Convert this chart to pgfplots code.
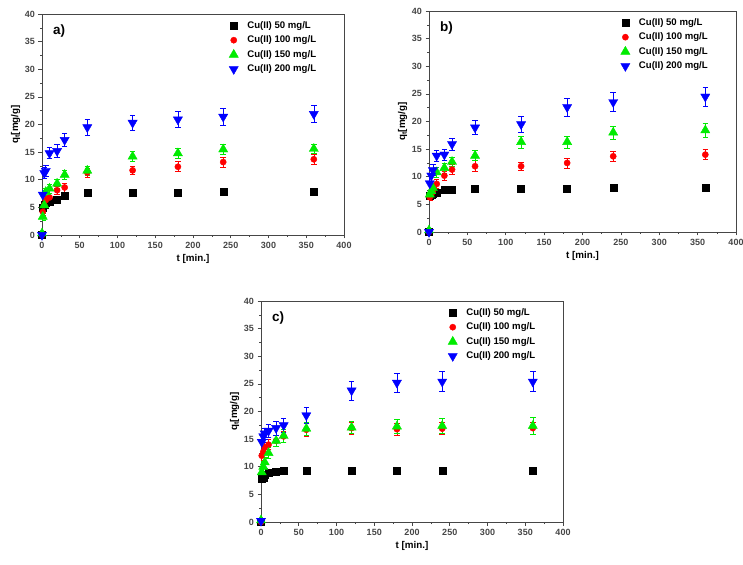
\documentclass[border=0pt]{standalone}
\usepackage{pgfplots}
\pgfplotsset{compat=1.18}
\usepackage{pgfplotstable}
\usepackage{fontspec}
\setmainfont{Liberation Sans}

\definecolor{cuA}{RGB}{0,0,0}
\definecolor{cuB}{RGB}{255,0,0}
\definecolor{cuC}{RGB}{0,235,0}
\definecolor{cuD}{RGB}{0,0,255}
\definecolor{axisgray}{RGB}{70,70,70}

% panel a)
\pgfplotstableread{
t q e
0 0 0
1 5.0 0.3
3 5.5 0.3
5 5.8 0.3
10 6.1 0.3
20 6.45 0.3
30 7.05 0.3
60 7.6 0.3
120 7.65 0.3
180 7.7 0.3
240 7.8 0.3
360 7.85 0.3
}\aA
\pgfplotstableread{
t q e
0 0 0
1 4.2 0.7
3 5.4 0.7
5 6.3 0.7
10 6.8 0.8
20 8.1 0.8
30 8.6 0.8
60 11.3 0.8
120 11.7 0.8
180 12.35 0.9
240 13.2 0.9
360 13.7 0.9
}\aB
\pgfplotstableread{
t q e
0 0.3 0
1 3.3 0.6
3 5.4 0.6
5 7.8 0.7
10 8.4 0.8
20 9.3 0.8
30 10.9 0.8
60 11.65 0.8
120 14.2 0.9
180 14.8 0.9
240 15.5 0.9
360 15.6 0.9
}\aC
\pgfplotstableread{
t q e
0 0 0
1 7.3 0.8
3 11.2 1.0
5 11.6 1.0
10 14.8 1.0
20 15.2 1.2
30 17.2 1.2
60 19.5 1.4
120 20.3 1.4
180 20.9 1.4
240 21.4 1.5
360 21.9 1.5
}\aD

% panel b)
\pgfplotstableread{
t q e
0 0 0
1 6.5 0.3
3 6.7 0.3
5 6.9 0.3
10 7.2 0.3
20 7.7 0.3
30 7.7 0.3
60 7.9 0.3
120 7.9 0.3
180 7.9 0.3
240 8.0 0.3
360 8.0 0.3
}\bA
\pgfplotstableread{
t q e
0 0 0
1 6.3 0.6
3 6.8 0.6
5 7.4 0.7
10 8.7 0.8
20 10.2 0.8
30 11.3 0.9
60 11.9 1.0
120 11.9 0.8
180 12.5 0.9
240 13.7 0.9
360 14.0 0.9
}\bB
\pgfplotstableread{
t q e
0 0.3 0
1 6.8 0.7
3 7.4 0.7
5 8.0 0.8
10 10.8 0.9
20 11.6 0.9
30 12.7 0.9
60 13.8 0.9
120 16.3 1.1
180 16.3 1.1
240 18.0 1.2
360 18.4 1.2
}\bC
\pgfplotstableread{
t q e
0 0 0
1 8.8 0.9
3 10.2 1.0
5 11.2 1.0
10 13.8 1.0
20 14.0 1.0
30 15.9 1.1
60 18.9 1.3
120 19.5 1.5
180 22.6 1.6
240 23.5 1.7
360 24.5 1.7
}\bD

% panel c)
\pgfplotstableread{
t q e
0 0 0
1 7.9 0.4
3 8.0 0.4
5 8.6 0.4
10 8.9 0.4
20 9.1 0.4
30 9.2 0.4
60 9.2 0.4
120 9.2 0.4
180 9.2 0.4
240 9.2 0.4
360 9.2 0.4
}\cA
\pgfplotstableread{
t q e
0 0 0
1 12.0 0.8
3 12.7 0.9
5 13.5 0.9
10 14.0 0.9
20 14.7 1.0
30 15.5 1.0
60 16.7 1.1
120 17.0 1.1
180 16.8 1.1
240 16.9 1.1
360 17.0 1.1
}\cB
\pgfplotstableread{
t q e
0 0.3 0
1 9.0 0.9
3 10.0 0.9
5 10.8 1.0
10 12.5 1.0
20 14.7 1.0
30 15.6 1.1
60 16.9 1.2
120 17.1 1.1
180 17.3 1.3
240 17.4 1.4
360 17.4 1.5
}\cC
\pgfplotstableread{
t q e
0 0.2 0
1 14.5 1.0
3 15.5 1.0
5 16.0 1.0
10 16.5 1.2
20 17.0 1.3
30 17.5 1.3
60 19.3 1.4
120 23.8 1.7
180 25.2 1.8
240 25.4 1.8
360 25.4 1.8
}\cD

\pgfplotsset{
  panel/.style={
    scale only axis,
    height=221pt,
    xmin=0, xmax=400, ymin=0, ymax=40,
    xtick={0,50,...,400}, ytick={0,5,...,40},
    minor x tick num=1, minor y tick num=1,
    axis x line*=bottom, axis y line*=left,
    axis line style={axisgray, line width=0.7pt},
    tick style={axisgray, line width=0.6pt},
    tick align=outside,
    major tick length=3.5pt, minor tick length=2pt,
    tick label style={font=\fontsize{9}{10}\selectfont\bfseries, text=axisgray},
    /pgf/number format/assume math mode=true,
    xlabel={t [min.]}, ylabel={q\textsubscript{t}[mg/g]},
    label style={font=\fontsize{9.8}{11}\selectfont\bfseries},
    xlabel style={yshift=1pt},
    ylabel style={yshift=-2pt},
    legend style={draw=none, fill=none, at={(0.925,0.985)}, anchor=north east,
      font=\fontsize{9.6}{11}\selectfont\bfseries, row sep=2pt,
      /tikz/every odd column/.style={column sep=7pt}},
    legend cell align=left,
    error bars/y dir=both, error bars/y explicit,
    error bars/error mark options={rotate=90, mark size=2.8pt, line width=0.6pt},
    extra description/.code={
      \draw[axisgray, line width=0.7pt] (0,1) -- (1,1) -- (1,0);
    },
  },
  sA/.style={only marks, mark=square*, mark size=3.5pt, color=cuA,
    error bars/error bar style={cuA, line width=0.6pt}},
  sB/.style={only marks, mark=*, mark size=3.1pt, color=cuB,
    error bars/error bar style={cuB, line width=0.6pt}},
  sC/.style={only marks, mark=triangle*, mark size=5.3pt, color=cuC,
    error bars/error bar style={cuC, line width=0.6pt}},
  sD/.style={only marks, mark=triangle*, mark size=5.3pt, mark options={rotate=180}, color=cuD,
    error bars/error bar style={cuD, line width=0.6pt}},
}

\begin{document}
\begin{tikzpicture}
\useasboundingbox (0,0) rectangle (743pt,564pt);

% a)
\begin{axis}[panel, width=302pt, at={(42pt,329pt)}, anchor=south west]
  \addplot[sA] table[x=t, y=q, y error=e] {\aA};
  \addplot[sB] table[x=t, y=q, y error=e] {\aB};
  \addplot[sC] table[x=t, y=q, y error=e] {\aC};
  \addplot[sD] table[x=t, y=q, y error=e] {\aD};
  \legend{Cu(II) 50 mg/L, Cu(II) 100 mg/L, Cu(II) 150 mg/L, Cu(II) 200 mg/L}
  \node[anchor=west, font=\fontsize{13.5}{14}\selectfont\bfseries] at (rel axis cs:0.025,0.925) {a)};
\end{axis}

% b)
\begin{axis}[panel, width=307pt, at={(429pt,332pt)}, anchor=south west]
  \addplot[sA] table[x=t, y=q, y error=e] {\bA};
  \addplot[sB] table[x=t, y=q, y error=e] {\bB};
  \addplot[sC] table[x=t, y=q, y error=e] {\bC};
  \addplot[sD] table[x=t, y=q, y error=e] {\bD};
  \legend{Cu(II) 50 mg/L, Cu(II) 100 mg/L, Cu(II) 150 mg/L, Cu(II) 200 mg/L}
  \node[anchor=west, font=\fontsize{13.5}{14}\selectfont\bfseries] at (rel axis cs:0.025,0.925) {b)};
\end{axis}

% c)
\begin{axis}[panel, width=302pt, at={(261pt,42pt)}, anchor=south west]
  \addplot[sA] table[x=t, y=q, y error=e] {\cA};
  \addplot[sB] table[x=t, y=q, y error=e] {\cB};
  \addplot[sC] table[x=t, y=q, y error=e] {\cC};
  \addplot[sD] table[x=t, y=q, y error=e] {\cD};
  \legend{Cu(II) 50 mg/L, Cu(II) 100 mg/L, Cu(II) 150 mg/L, Cu(II) 200 mg/L}
  \node[anchor=west, font=\fontsize{13.5}{14}\selectfont\bfseries] at (rel axis cs:0.025,0.925) {c)};
\end{axis}
\end{tikzpicture}
\end{document}
